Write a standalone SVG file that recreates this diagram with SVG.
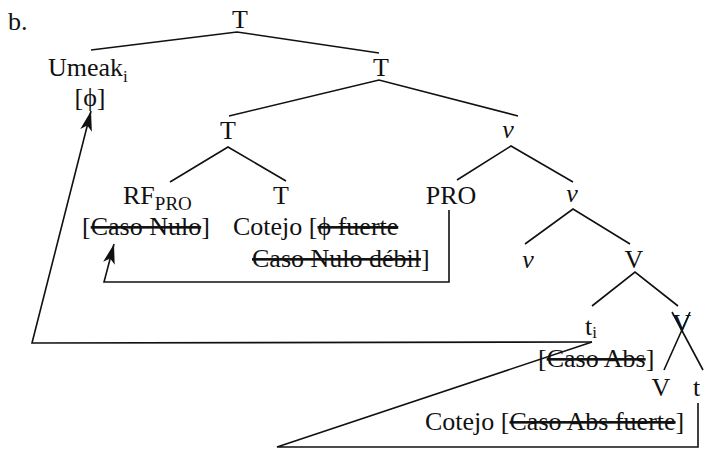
<svg xmlns="http://www.w3.org/2000/svg" width="705" height="450" viewBox="0 0 705 450">
<style>
text{font-family:"Liberation Serif","Times New Roman",serif;font-size:26px;fill:#111}
.m{text-anchor:middle}
.it{font-style:italic}
.sub{font-size:17px}
.sub2{font-size:19px}
.s{text-decoration:line-through}
.ln{stroke:#111;stroke-width:1.6;fill:none}
</style>
<defs>
<marker id="ah" markerWidth="22" markerHeight="14" refX="20" refY="7" orient="auto" markerUnits="userSpaceOnUse">
<path d="M0,1 L20,7 L0,13 L5,7 Z" fill="#111"/>
</marker>
</defs>
<rect width="705" height="450" fill="#fff"/>
<text x="8" y="30">b.</text>
<g id="connectors">
<path class="ln" d="M91,50 L237,32 L379,53"/>
<path class="ln" d="M229,116 L379,80 L518,116"/>
<path class="ln" d="M170,182 L228,147 L286,181"/>
<path class="ln" d="M457,180 L511,146 L573,182"/>
<path class="ln" d="M525,244 L573,209 L630,244"/>
<path class="ln" d="M592,306 L635,272 L678,306"/>
<path class="ln" d="M690,312 L664,370 M672,312 L703,370"/>
<path class="ln" d="M449,210 L449,282 L104,282 L114,244" marker-end="url(#ah)"/>
<path class="ln" d="M592,342 L32,343 L91,111" marker-end="url(#ah)"/>
<path class="ln" d="M592,342 L277,447 L698,447 L698,403"/>
</g>
<g id="T1"><text class="m" x="240" y="28">T</text></g>
<g id="Umeak"><text x="48" y="76">Umeak<tspan class="sub" dy="6">i</tspan></text><text class="m" x="90" y="106">[ϕ]</text></g>
<g id="T2"><text class="m" x="381" y="76">T</text></g>
<g id="T3"><text class="m" x="228" y="139">T</text></g>
<g id="v1"><text class="m it" x="508" y="138">v</text></g>
<g id="RF"><text x="123" y="204">RF<tspan class="sub2" dy="6">PRO</tspan></text><text x="82" y="235">[<tspan class="s">Caso Nulo</tspan>]</text></g>
<g id="T4"><text class="m" x="281" y="204">T</text><text x="233" y="235">Cotejo [<tspan class="s">ϕ fuerte</tspan></text><text x="252" y="267"><tspan class="s">Caso Nulo débil</tspan>]</text></g>
<g id="PRO"><text class="m" x="451" y="204">PRO</text></g>
<g id="v2"><text class="m it" x="572" y="202">v</text></g>
<g id="v3"><text class="m it" x="528" y="268">v</text></g>
<g id="V1"><text class="m" x="634" y="268">V</text></g>
<g id="ti"><text x="585" y="335">t<tspan class="sub" dy="3">i</tspan></text><text x="538" y="367">[<tspan class="s">Caso Abs</tspan>]</text></g>
<g id="V2"><text class="m" x="682" y="332">V</text></g>
<g id="V3"><text class="m" x="661" y="396">V</text></g>
<g id="t"><text x="693" y="396">t</text></g>
<g id="Cotejo"><text x="425" y="430">Cotejo [<tspan class="s">Caso Abs fuerte</tspan>]</text></g>
</svg>
